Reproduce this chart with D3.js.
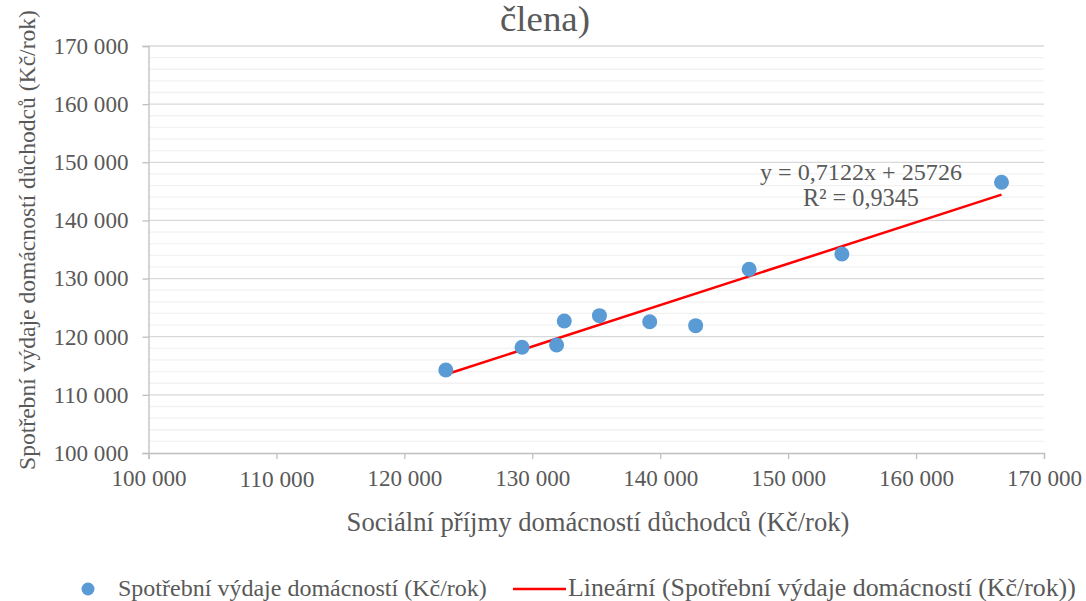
<!DOCTYPE html>
<html><head><meta charset="utf-8">
<script src="https://cdn.jsdelivr.net/npm/d3@7"></script>
<style>
html,body{margin:0;padding:0;background:#fff;}
</style></head>
<body><svg id="c" width="1086" height="601"></svg>
<script>
// Data
const income = [123240, 129200, 131900, 132500, 135250, 139180, 142770, 146950, 154200, 166680];
const spending = [114280, 118180, 118580, 122700, 123620, 122580, 121900, 131600, 134230, 146560];
const xTicks = [100000, 110000, 120000, 130000, 140000, 150000, 160000, 170000];
const yTicks = [100000, 110000, 120000, 130000, 140000, 150000, 160000, 170000];
const trendSlope = 0.7122, trendIntercept = 25726, trendR2 = 0.9345;
const titleText = "člena)";
const xTitle = "Sociální příjmy domácností důchodců (Kč/rok)";
const yTitle = "Spotřební výdaje domácností důchodců (Kč/rok)";
const legendPoints = "Spotřební výdaje domácností (Kč/rok)";
const legendLine = "Lineární (Spotřební výdaje domácností (Kč/rok))";

const FONT = "'Liberation Serif','Times New Roman',serif";
const TXT = "#595959";
const svg = d3.select("#c").attr("font-family", FONT);
const L = 148.5, R = 1044, T = 46, B = 453;
const x = d3.scaleLinear().domain([100000, 170000]).range([L, R]);
const y = d3.scaleLinear().domain([100000, 170000]).range([B, T]);
const fmt = v => d3.format(",")(v).replace(/,/g, " ");

// size a text so its natural width matches the target width
function fit(sel, target) {
  sel.style("font-size", "20px");
  const w = sel.node().getComputedTextLength();
  sel.style("font-size", (20 * target / w).toFixed(2) + "px");
  return sel;
}
function addText(str, xx, yy, anchor) {
  return svg.append("text").attr("x", xx).attr("y", yy).attr("text-anchor", anchor)
    .attr("fill", TXT).attr("font-family", FONT).text(str);
}

// title (cut off at top)
fit(addText(titleText, 545, 31, "middle"), 90);

// minor gridlines
const minor = d3.range(100000, 170001, 2000).filter(v => v % 10000 !== 0);
svg.append("g").selectAll("line").data(minor).join("line")
  .attr("x1", L).attr("x2", R).attr("y1", d => y(d)).attr("y2", d => y(d))
  .attr("stroke", "#F2F2F2").attr("stroke-width", 1.3);
// major gridlines
svg.append("g").selectAll("line").data(yTicks.filter(v => v !== 100000)).join("line")
  .attr("x1", L).attr("x2", R).attr("y1", d => y(d)).attr("y2", d => y(d))
  .attr("stroke", "#D9D9D9").attr("stroke-width", 1.3);

// axes
const yAxis = svg.append("g").attr("transform", `translate(${L},0)`)
  .call(d3.axisLeft(y).tickValues(yTicks).tickFormat(fmt).tickSize(6).tickPadding(14));
const xAxis = svg.append("g").attr("transform", `translate(0,${B})`)
  .call(d3.axisBottom(x).tickValues(xTicks).tickFormat(fmt).tickSize(6).tickPadding(11));
[yAxis, xAxis].forEach(g => {
  g.attr("font-family", FONT);
  g.select(".domain").attr("stroke", "#BFBFBF").attr("stroke-width", 1.3);
  g.selectAll(".tick line").attr("stroke", "#BFBFBF").attr("stroke-width", 1.3);
  g.selectAll(".tick text").attr("fill", TXT).each(function () { fit(d3.select(this), 75); });
});
xAxis.selectAll(".tick text").attr("dy", "0.71em");

// axis titles
fit(addText(xTitle, 598, 531, "middle"), 503);
fit(svg.append("text").attr("transform", "translate(35,240) rotate(-90)").attr("text-anchor", "middle")
  .attr("fill", TXT).attr("font-family", FONT).text(yTitle), 460);

// trendline
const xMin = d3.min(income), xMax = d3.max(income);
svg.append("line")
  .attr("x1", x(xMin)).attr("y1", y(trendSlope * xMin + trendIntercept))
  .attr("x2", x(xMax)).attr("y2", y(trendSlope * xMax + trendIntercept))
  .attr("stroke", "#FF0000").attr("stroke-width", 2.5);

// points
svg.append("g").selectAll("circle").data(income.map((v, i) => [v, spending[i]])).join("circle")
  .attr("cx", d => x(d[0])).attr("cy", d => y(d[1])).attr("r", 7.5).attr("fill", "#5B9BD5");

// equation label
fit(addText(`y = ${String(trendSlope).replace(".", ",")}x + ${trendIntercept}`, 861, 180, "middle"), 202);
fit(addText(`R² = ${String(trendR2).replace(".", ",")}`, 861, 206, "middle"), 116);

// legend
svg.append("circle").attr("cx", 88).attr("cy", 589).attr("r", 6.5).attr("fill", "#5B9BD5");
fit(addText(legendPoints, 118, 596, "start"), 369);
svg.append("line").attr("x1", 513).attr("x2", 566).attr("y1", 589).attr("y2", 589)
  .attr("stroke", "#FF0000").attr("stroke-width", 2.5);
fit(addText(legendLine, 568, 596, "start"), 508);
</script></body></html>
